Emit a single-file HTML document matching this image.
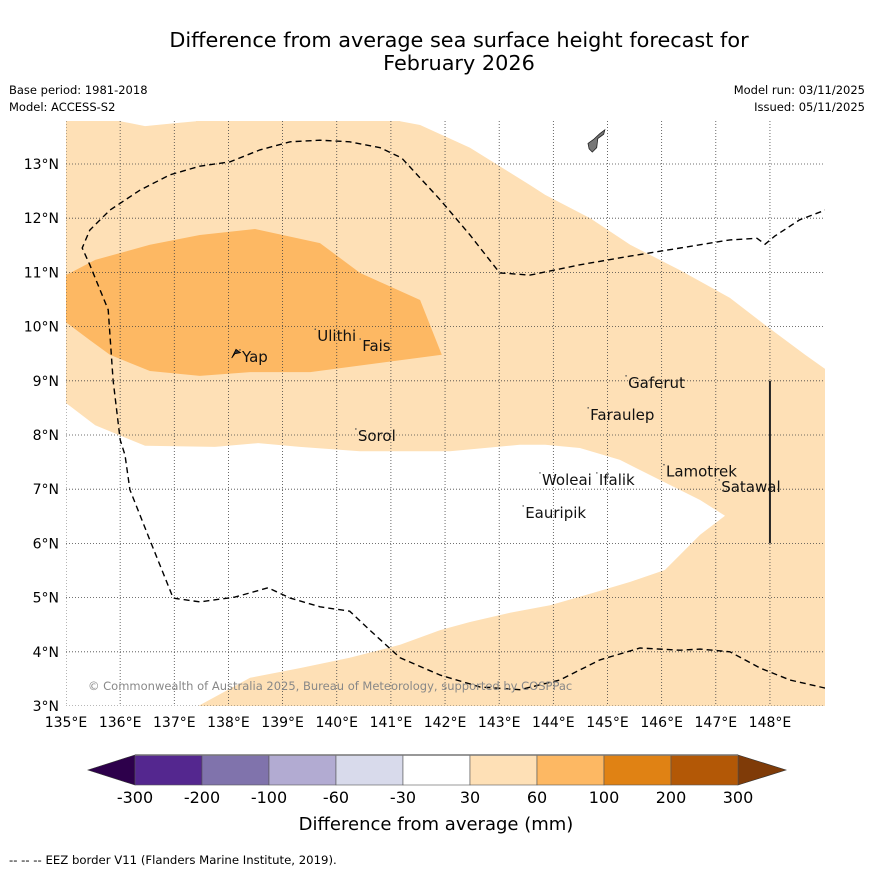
<!DOCTYPE html>
<html><head><meta charset="utf-8">
<style>
html,body{margin:0;padding:0;background:#fff;}
svg{display:block;font-family:"DejaVu Sans","Liberation Sans",sans-serif;}
</style></head>
<body>
<svg id="chart" width="873" height="873" viewBox="0 0 873 873" xmlns="http://www.w3.org/2000/svg">
<rect width="873" height="873" fill="#ffffff"/>
<text x="459" y="47" font-size="20.8" text-anchor="middle" fill="#000">Difference from average sea surface height forecast for</text>
<text x="459" y="70" font-size="20.8" text-anchor="middle" fill="#000">February 2026</text>
<text x="9" y="94" font-size="11.5">Base period: 1981-2018</text>
<text x="9" y="111" font-size="11.5">Model: ACCESS-S2</text>
<text x="865" y="94" font-size="11.5" text-anchor="end">Model run: 03/11/2025</text>
<text x="865" y="111" font-size="11.5" text-anchor="end">Issued: 05/11/2025</text>
<defs><clipPath id="mapclip"><rect x="66" y="121" width="759" height="585"/></clipPath></defs>
<g id="map" clip-path="url(#mapclip)"></g>
<g id="axes"></g>
<g id="cbar"></g>
<text x="436" y="830" font-size="18" text-anchor="middle">Difference from average (mm)</text>
<text x="9" y="864" font-size="11.7">--  --  -- EEZ border V11 (Flanders Marine Institute, 2019).</text>
</svg>
<script>
const lonTicks=[135,136,137,138,139,140,141,142,143,144,145,146,147,148];
const latTicks=[3,4,5,6,7,8,9,10,11,12,13];
const aboveContour=[[141.17,13.9],[141.17,13.79],[141.54,13.72],[142.46,13.30],[143.57,12.61],[143.85,12.43],[144.68,12.00],[145.42,11.51],[146.34,11.04],[147.26,10.53],[147.91,10.03],[148.65,9.48],[149.1,9.16],[149.1,13.9]];
const topDip=[[136.0,13.9],[136.0,13.79],[136.46,13.70],[137.0,13.75],[137.4,13.79],[137.4,13.9]];
const whiteHole=[[134.9,8.59],[135.0,8.59],[135.54,8.18],[136.46,7.80],[137.75,7.78],[138.55,7.85],[139.32,7.78],[140.43,7.70],[142.09,7.70],[143.38,7.82],[143.85,7.82],[144.49,7.76],[145.23,7.54],[145.97,7.17],[146.71,6.80],[147.17,6.51],[146.71,6.16],[146.06,5.51],[145.42,5.29],[144.68,5.07],[143.94,4.86],[143.20,4.72],[142.46,4.55],[141.91,4.40],[141.17,4.13],[140.24,3.89],[139.32,3.70],[138.40,3.52],[137.35,2.95],[134.9,2.95]];
const contour60=[[134.9,10.95],[135,10.95],[135.54,11.23],[136.55,11.51],[137.47,11.69],[138.49,11.80],[139.69,11.54],[140.43,10.99],[141.54,10.49],[141.94,9.48],[140.80,9.33],[139.51,9.16],[138.40,9.16],[137.47,9.09],[136.55,9.18],[135.81,9.48],[135.44,9.75],[135,10.08],[134.9,10.08]];
const eezA=[[149.02,3.33],[148.37,3.48],[147.82,3.70],[147.26,4.0],[146.71,4.05],[146.34,4.03],[145.60,4.07],[144.86,3.85],[144.12,3.48],[143.38,3.30],[142.65,3.35],[141.91,3.57],[141.17,3.89],[140.61,4.40],[140.24,4.75],[139.69,4.83],[139.14,4.99],[138.73,5.18],[138.12,5.01],[137.47,4.92],[136.98,4.99],[136.55,6.06],[136.18,6.99],[136.09,7.63],[136.0,7.91],[135.87,9.01],[135.78,10.31],[135.44,11.14],[135.30,11.45],[135.44,11.78],[135.81,12.15],[136.37,12.52],[136.92,12.80],[137.47,12.96],[138.03,13.04],[138.58,13.26],[139.14,13.41],[139.69,13.44],[140.24,13.41],[140.80,13.30],[141.20,13.11],[141.91,12.34],[142.46,11.69],[143.01,10.99],[143.57,10.95],[144.49,11.14],[145.42,11.30],[146.34,11.45],[147.26,11.60],[147.76,11.63],[147.91,11.52],[148.09,11.67],[148.55,11.97],[149.02,12.15]];
const guam=[[144.64,13.38],[144.75,13.46],[144.86,13.56],[144.95,13.63],[144.93,13.55],[144.82,13.47],[144.80,13.30],[144.72,13.22],[144.66,13.28]];
const yap=[[138.06,9.42],[138.14,9.58],[138.22,9.52],[138.12,9.50]];
const islandNames=["Yap","Ulithi","Fais","Gaferut","Faraulep","Sorol","Woleai","Ifalik","Lamotrek","Satawal","Eauripik"];
const islandLon=[138.25,139.64,140.47,145.38,144.68,140.39,143.79,144.84,146.08,147.10,143.48];
const islandLat=[9.35,9.73,9.55,8.87,8.28,7.89,7.08,7.08,7.23,6.95,6.47];
const cbarLabels=["-300","-200","-100","-60","-30","30","60","100","200","300"];
const cbarColors=["#54278f","#8073ac","#b2abd2","#d8daeb","#ffffff","#fee0b6","#fdb863","#e08214","#b35806"];
const NS="http://www.w3.org/2000/svg";
const X=lon=>66+(lon-135)*54.15;
const Y=lat=>164+(13-lat)*54.2;
function mk(tag,attrs,parent){const e=document.createElementNS(NS,tag);for(const k in attrs)e.setAttribute(k,attrs[k]);parent.appendChild(e);return e;}
const pts=a=>a.map(p=>X(p[0]).toFixed(1)+","+Y(p[1]).toFixed(1)).join(" ");
const map=document.getElementById('map');
let e;
e=mk('rect',{x:66,y:121,width:759,height:585,fill:'#fee0b6'},map);


e=mk('polygon',{points:pts(aboveContour),fill:'#ffffff'},map);


e=mk('polygon',{points:pts(topDip),fill:'#ffffff'},map);


e=mk('polygon',{points:pts(whiteHole),fill:'#ffffff'},map);


e=mk('polygon',{points:pts(contour60),fill:'#fdb863'},map);


lonTicks.forEach(l=>{const g=mk('line',{x1:X(l),x2:X(l),y1:121,y2:706,stroke:'#444','stroke-width':0.8,'stroke-dasharray':'1,2'},map);

});
latTicks.forEach(l=>{const g=mk('line',{x1:66,x2:825,y1:Y(l),y2:Y(l),stroke:'#444','stroke-width':0.8,'stroke-dasharray':'1,2'},map);

});
e=mk('polyline',{points:pts(eezA),fill:'none',stroke:'#000','stroke-width':1.4,'stroke-dasharray':'6,4'},map);


e=mk('line',{x1:X(148),x2:X(148),y1:Y(9),y2:Y(6),stroke:'#222','stroke-width':2},map);


e=mk('polygon',{points:pts(guam),fill:'#777',stroke:'#222','stroke-width':0.8},map);


e=mk('polygon',{points:pts(yap),fill:'#333',stroke:'#000','stroke-width':0.8},map);


islandNames.forEach((n,i)=>{
 const d=mk('circle',{cx:X(islandLon[i])-2,cy:Y(islandLat[i])-12,r:0.8,fill:'#555'},map);
 
 
 const t=mk('text',{x:X(islandLon[i]),y:Y(islandLat[i]),'font-size':15,fill:'#111'},map);
 t.textContent=n;
 
 
});
e=mk('text',{x:88,y:690,'font-size':11.5,fill:'#888'},map);
e.textContent='© Commonwealth of Australia 2025, Bureau of Meteorology, supported by COSPPac';


const axes=document.getElementById('axes');
lonTicks.forEach(l=>{const t=mk('text',{x:X(l),y:727,'font-size':14,'text-anchor':'middle'},axes);t.textContent=l+'°E';

});
latTicks.forEach(l=>{const t=mk('text',{x:59,y:Y(l)+5,'font-size':14,'text-anchor':'end'},axes);t.textContent=l+'°N';

});
const cb=document.getElementById('cbar');
const cx0=135,cx1=738,cy0=755,cy1=785,sw=(cx1-cx0)/cbarColors.length;
e=mk('polygon',{points:`${cx0},${cy0} ${cx0},${cy1} 88,770`,fill:'#2d004b',stroke:'#333','stroke-width':0.6},cb);


e=mk('polygon',{points:`${cx1},${cy0} ${cx1},${cy1} 786,770`,fill:'#7f3b08',stroke:'#333','stroke-width':0.6},cb);


cbarColors.forEach((c,i)=>{const r=mk('rect',{x:cx0+i*sw,y:cy0,width:sw,height:cy1-cy0,fill:c,stroke:'#555','stroke-width':0.6},cb);

});
e=mk('line',{x1:cx0,x2:cx1,y1:cy0,y2:cy0,stroke:'#777','stroke-width':1.5},cb);


cbarLabels.forEach((l,i)=>{const t=mk('text',{x:cx0+i*sw,y:803,'font-size':16,'text-anchor':'middle'},cb);t.textContent=l;

});
</script>
</body></html>
